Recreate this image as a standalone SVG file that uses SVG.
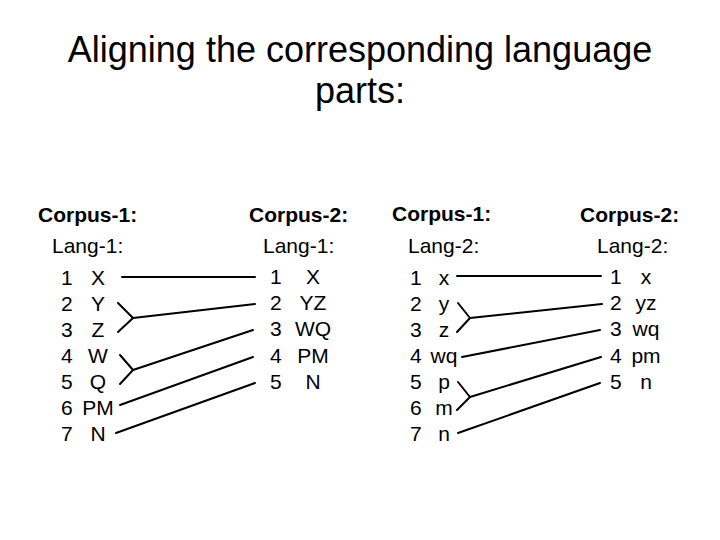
<svg xmlns="http://www.w3.org/2000/svg" width="720" height="540" viewBox="0 0 720 540">
<style>
text{font-family:"Liberation Sans",Arial,sans-serif;fill:#000}
.title{font-size:36px;text-anchor:middle}
.hd{font-size:21px;font-weight:bold}
.lg{font-size:21px}
.row{font-size:21px}
.m{text-anchor:middle}
.ln{stroke:#000;stroke-width:2;fill:none;stroke-linecap:round;stroke-linejoin:round}
</style>
<rect width="720" height="540" fill="#fff"/>
<g id="title">
<text class="title" x="360" y="62">Aligning the corresponding language</text>
<text class="title" x="360" y="103">parts:</text>
</g>
<g id="c1l1">
<text class="hd" x="38" y="222">Corpus-1:</text>
<text class="lg" x="52" y="253">Lang-1:</text>
<text class="row" x="61" y="285">1</text><text class="row m" x="98" y="285">X</text>
<text class="row" x="61" y="311">2</text><text class="row m" x="98" y="311">Y</text>
<text class="row" x="61" y="337">3</text><text class="row m" x="98" y="337">Z</text>
<text class="row" x="61" y="363">4</text><text class="row m" x="98" y="363">W</text>
<text class="row" x="61" y="389">5</text><text class="row m" x="98" y="389">Q</text>
<text class="row" x="61" y="415">6</text><text class="row m" x="98" y="415">PM</text>
<text class="row" x="61" y="441">7</text><text class="row m" x="98" y="441">N</text>
</g>
<g id="c2l1">
<text class="hd" x="249" y="222">Corpus-2:</text>
<text class="lg" x="263" y="253">Lang-1:</text>
<text class="row" x="270" y="284">1</text><text class="row m" x="313" y="284">X</text>
<text class="row" x="270" y="310">2</text><text class="row m" x="313" y="310">YZ</text>
<text class="row" x="270" y="336">3</text><text class="row m" x="313" y="336">WQ</text>
<text class="row" x="270" y="363">4</text><text class="row m" x="313" y="363">PM</text>
<text class="row" x="270" y="389">5</text><text class="row m" x="313" y="389">N</text>
</g>
<g id="c1l2">
<text class="hd" x="392" y="221">Corpus-1:</text>
<text class="lg" x="408" y="253">Lang-2:</text>
<text class="row" x="410" y="285">1</text><text class="row m" x="444" y="285">x</text>
<text class="row" x="410" y="311">2</text><text class="row m" x="444" y="311">y</text>
<text class="row" x="410" y="337">3</text><text class="row m" x="444" y="337">z</text>
<text class="row" x="410" y="363">4</text><text class="row m" x="444" y="363">wq</text>
<text class="row" x="410" y="389">5</text><text class="row m" x="444" y="389">p</text>
<text class="row" x="410" y="415">6</text><text class="row m" x="444" y="415">m</text>
<text class="row" x="410" y="441">7</text><text class="row m" x="444" y="441">n</text>
</g>
<g id="c2l2">
<text class="hd" x="580" y="222">Corpus-2:</text>
<text class="lg" x="597" y="253">Lang-2:</text>
<text class="row" x="610" y="284">1</text><text class="row m" x="646" y="284">x</text>
<text class="row" x="610" y="310">2</text><text class="row m" x="646" y="310">yz</text>
<text class="row" x="610" y="336">3</text><text class="row m" x="646" y="336">wq</text>
<text class="row" x="610" y="363">4</text><text class="row m" x="646" y="363">pm</text>
<text class="row" x="610" y="389">5</text><text class="row m" x="646" y="389">n</text>
</g>
<g id="connectors">
<line class="ln" x1="122" y1="277" x2="255" y2="277" stroke-width="3"/>
<polyline class="ln" points="118,303 133,318 118,332"/>
<line class="ln" x1="133" y1="318" x2="255" y2="304"/>
<polyline class="ln" points="120,355 133,370 120,384"/>
<line class="ln" x1="133" y1="370" x2="253" y2="330"/>
<line class="ln" x1="120" y1="405" x2="253" y2="357"/>
<line class="ln" x1="116" y1="433" x2="255" y2="383"/>
<line class="ln" x1="457" y1="276" x2="601" y2="276"/>
<polyline class="ln" points="458,303 470,318 457,332"/>
<line class="ln" x1="470" y1="318" x2="602" y2="304"/>
<line class="ln" x1="462" y1="357" x2="600" y2="330"/>
<polyline class="ln" points="458,382 470,397 457,410"/>
<line class="ln" x1="470" y1="397" x2="601" y2="357"/>
<line class="ln" x1="458" y1="433" x2="600" y2="383"/>
</g>
</svg>
